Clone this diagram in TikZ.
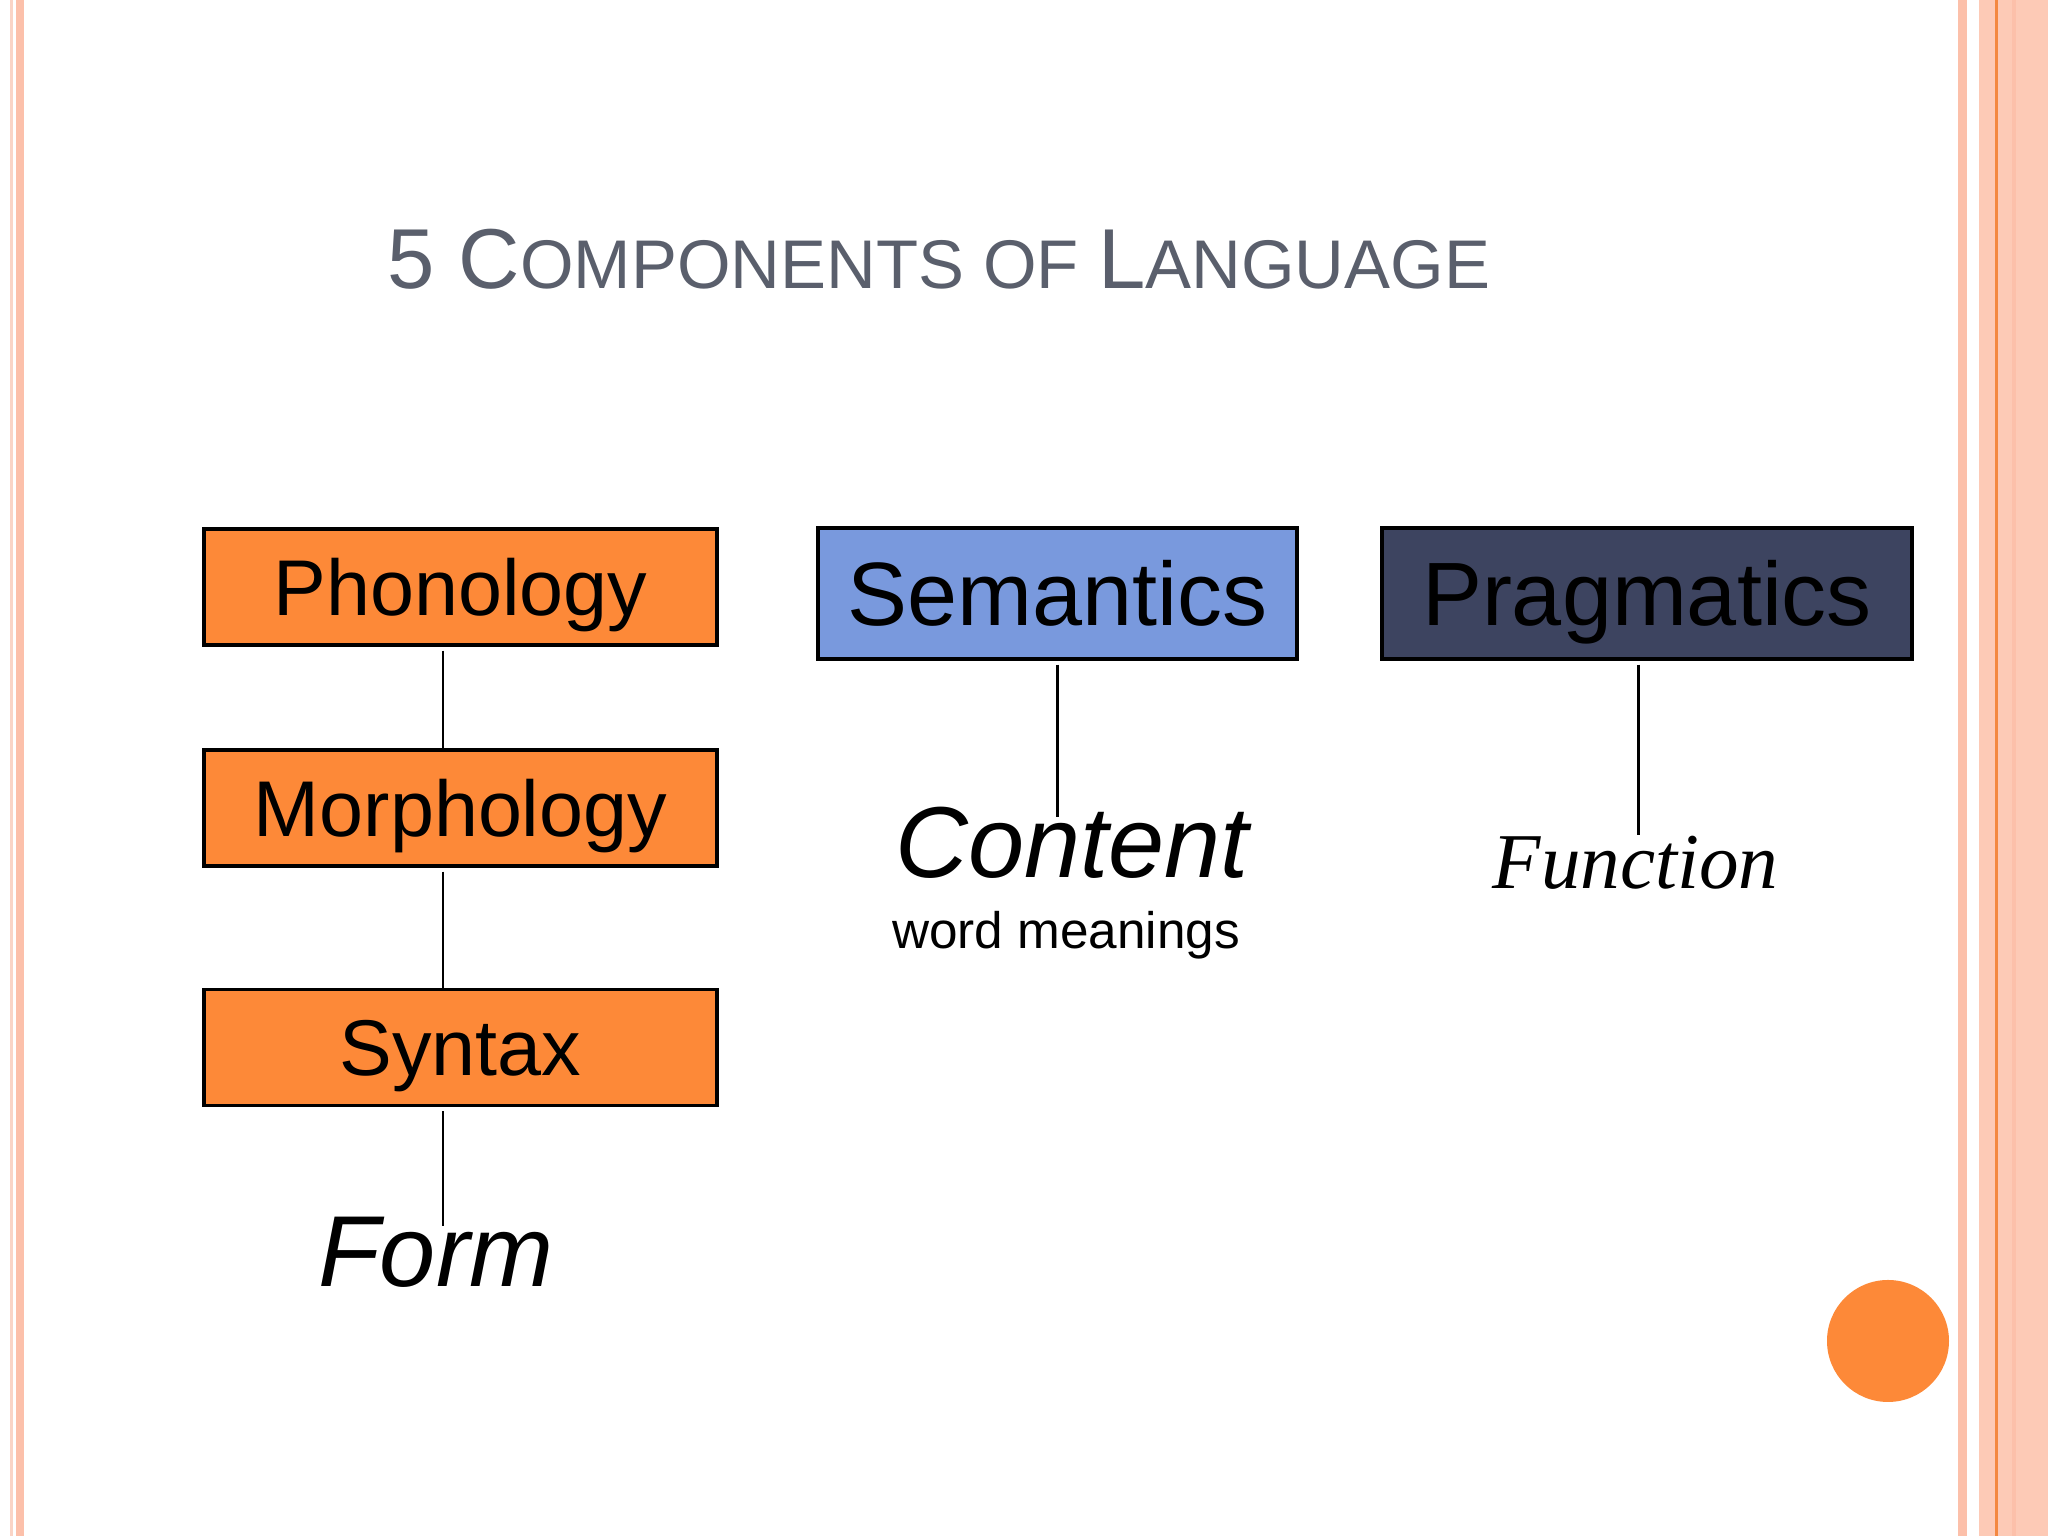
\documentclass[tikz,border=0pt]{standalone}
\usepackage{fontspec}
\setmainfont{Liberation Sans}
\newfontfamily\serifit{Liberation Serif}
\usetikzlibrary{positioning}
\definecolor{boxorange}{RGB}{253,137,56}
\definecolor{semblue}{RGB}{121,153,221}
\definecolor{pragnavy}{RGB}{61,68,96}
\definecolor{titlegray}{RGB}{90,95,108}
\definecolor{salmon}{RGB}{252,192,170}
\definecolor{palesalmon}{RGB}{250,212,198}
\definecolor{peach}{RGB}{253,202,182}
\definecolor{edgeorange}{RGB}{244,136,64}
\newcommand\titlebig{\fontsize{24.2pt}{29pt}\selectfont}
\newcommand\titlesmall{\fontsize{19.6pt}{24pt}\selectfont}
\newcommand\compfont{\fontsize{22.5pt}{27pt}\selectfont}
\newcommand\bigcompfont{\fontsize{25.6pt}{30pt}\selectfont}
\newcommand\kindfont{\fontsize{28.7pt}{34pt}\selectfont\itshape}
\tikzset{
  comp/.style={draw=black,line width=1pt,fill=boxorange,inner sep=0pt,
    minimum width=5.13cm,minimum height=1.16cm,text height=5.7mm,text depth=0pt,font=\compfont},
  bigcomp/.style={comp,minimum height=1.31cm,text height=6.4mm,font=\bigcompfont},
  kind/.style={inner sep=0pt,anchor=base,text height=6mm,text depth=0pt,font=\kindfont},
  link/.style={draw=black,line width=0.85pt,shorten <=0.04cm}
}
\begin{document}
\begin{tikzpicture}
\useasboundingbox (0,0) rectangle (20.48,15.36);
\fill[white] (0,0) rectangle (20.48,15.36);
% side stripes
\fill[palesalmon] (0.10,0) rectangle (0.13,15.36);
\fill[salmon] (0.16,0) rectangle (0.24,15.36);
\fill[salmon] (19.58,0) rectangle (19.67,15.36);
\fill[peach] (19.79,0) rectangle (20.48,15.36);
\fill[salmon] (20.12,0) rectangle (20.16,15.36);
\fill[edgeorange] (19.95,0) rectangle (19.98,15.36);
\fill[boxorange] (18.88,1.95) circle (0.61);

\node[anchor=base,text=titlegray] (title) at (9.39,12.47)
  {\titlebig 5 C\titlesmall OMPONENTS OF \titlebig L\titlesmall ANGUAGE};

% form column
\node[comp] (phon) at (4.605,9.49) {Phonology};
\node[comp] (morph) at (4.605,7.28) {Morphology};
\node[comp] (syn) at (4.605,4.885) {Syntax};
\node[kind] (form) at (4.36,2.49) {Form};
\coordinate (lx) at (4.43,0);
\draw[link] (phon.south -| lx) -- (morph.north -| lx);
\draw[link] (morph.south -| lx) -- (syn.north -| lx);
\draw[link] (syn.south -| lx) -- (form.north -| lx);

% content
\node[bigcomp,fill=semblue,minimum width=4.79cm] (sem) at (10.575,9.425) {Semantics};
\node[kind] (content) at (10.72,6.58) {Content};
\node[below=3.2mm of content,xshift=-0.6mm,inner sep=0pt,text height=3.7mm,text depth=0pt,
  font=\fontsize{14.6pt}{17pt}\selectfont] (meaning) {word meanings};
\draw[link] (sem.south) -- (content.north -| sem.south);

% function
\node[bigcomp,fill=pragnavy,minimum width=5.30cm] (prag) at (16.47,9.425) {Pragmatics};
\node[kind,text height=5.3mm,font=\fontsize{22.5pt}{27pt}\serifit\itshape] (func) at (16.355,6.47) {Function};
\coordinate (rx) at (16.38,0);
\draw[link] (prag.south -| rx) -- (func.north -| rx);
\end{tikzpicture}
\end{document}
